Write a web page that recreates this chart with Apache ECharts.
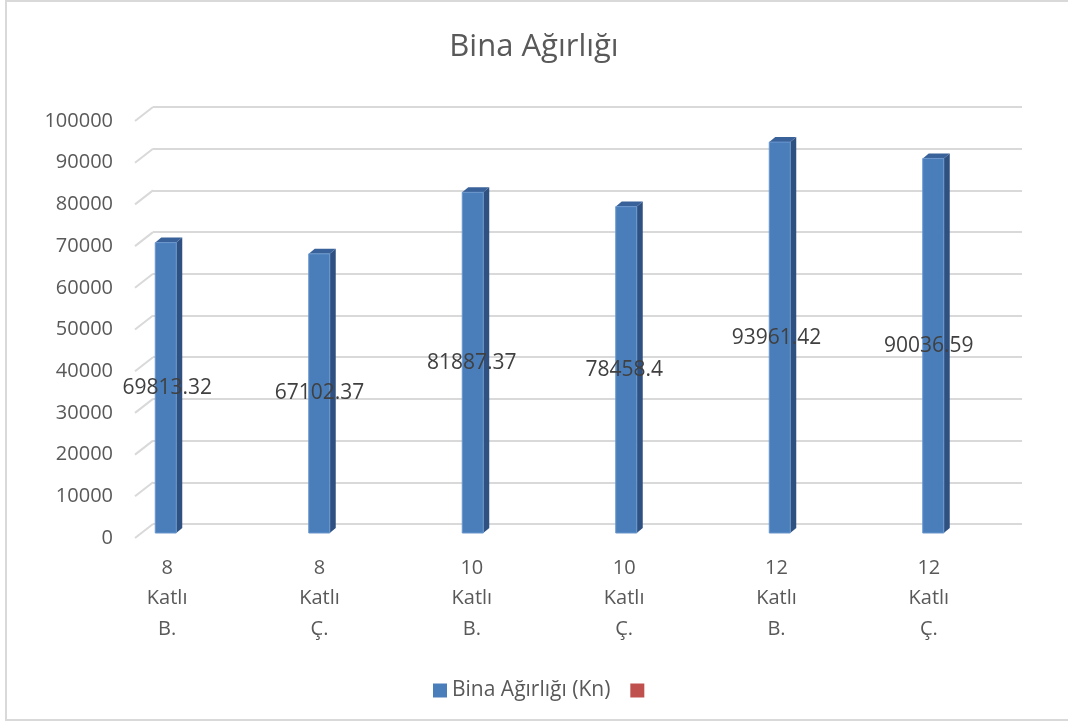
<!DOCTYPE html>
<html>
<head>
<meta charset="utf-8">
<script src="https://cdn.jsdelivr.net/npm/echarts@6/dist/echarts.min.js"></script>
<style>
  html, body { margin: 0; padding: 0; background: #ffffff; }
  #chart { width: 1068px; height: 724px; }
</style>
</head>
<body>
<div id="chart"></div>
<script>
// Building weights per storey count and system
const categories = ['8\nKatlı\nB.', '8\nKatlı\nÇ.', '10\nKatlı\nB.', '10\nKatlı\nÇ.', '12\nKatlı\nB.', '12\nKatlı\nÇ.'];
const weights = [69813.32, 67102.37, 81887.37, 78458.4, 93961.42, 90036.59];
const yTicks = [0, 10000, 20000, 30000, 40000, 50000, 60000, 70000, 80000, 90000, 100000];
const seriesName = 'Bina Ağırlığı (Kn)';
const titleText = 'Bina Ağırlığı';

const FONT = '"Open Sans", "Noto Sans", sans-serif';
const TEXT = '#595959';
const GRID_LINE = '#d9d9d9';

const chart = echarts.init(document.getElementById('chart'), null, { renderer: 'canvas' });

// 3D column: front face, darker right side, top cap
function renderColumn(params, api) {
  const i = api.value(0);
  const v = api.value(1);
  const base = api.coord([i, 0]);
  const top = api.coord([i, v]);
  const w = 21, dx = 6, dy = 5;
  const x0 = base[0] - w / 2;
  const h = base[1] - top[1];
  return {
    type: 'group',
    children: [
      { type: 'polygon', shape: { points: [[x0 + w, top[1]], [x0 + w + dx, top[1] - dy], [x0 + w + dx, base[1] - dy], [x0 + w, base[1]]] },
        style: { fill: '#2f5181' } },
      { type: 'polygon', shape: { points: [[x0, top[1]], [x0 + dx, top[1] - dy], [x0 + w + dx, top[1] - dy], [x0 + w, top[1]]] },
        style: { fill: '#3a629a' } },
      { type: 'rect', shape: { x: x0, y: top[1], width: w, height: h },
        style: { fill: '#4a7ebb', stroke: '#6a96cc', lineWidth: 1 } }
    ]
  };
}

// Value label at mid-height of each column
function renderValueLabel(params, api) {
  const i = api.value(0);
  const v = api.value(1);
  const base = api.coord([i, 0]);
  const top = api.coord([i, v]);
  return {
    type: 'text', x: base[0], y: (top[1] + base[1]) / 2,
    style: { text: String(v), font: '21px ' + FONT, fill: '#404040', align: 'center', verticalAlign: 'middle' }
  };
}

// Slanted floor-to-wall part of each gridline
function renderSlant(params, api) {
  const p = api.coord([0, api.value(0)]);
  return {
    type: 'line',
    shape: { x1: p[0], y1: p[1], x2: p[0] + 18, y2: p[1] - 14 },
    style: { stroke: GRID_LINE, lineWidth: 2 }
  };
}

const option = {
  backgroundColor: '#ffffff',
  animation: false,
  title: {
    text: titleText,
    left: 'center',
    top: 27,
    textStyle: { fontFamily: FONT, fontSize: 31, fontWeight: 'normal', color: TEXT }
  },
  legend: {
    data: [seriesName, ' '],
    left: 428,
    top: 675,
    icon: 'rect',
    itemWidth: 14,
    itemHeight: 14,
    itemGap: 20,
    textStyle: { fontFamily: FONT, fontSize: 21, color: TEXT }
  },
  graphic: [
    { type: 'rect', shape: { x: 6, y: 1, width: 1080, height: 719 },
      style: { fill: 'none', stroke: '#d9d9d9', lineWidth: 2 }, silent: true, z: -10 }
  ],
  grid: [
    { left: 153, right: 46, top: 107, bottom: 200 },  // back wall
    { left: 135, right: 64, top: 121, bottom: 186 },  // front edge (value labels)
    { left: 89, right: 58, top: 117, bottom: 191 },   // columns
    { left: 91, right: 63, top: 117, bottom: 191 }    // category and value labels
  ],
  xAxis: [
    { gridIndex: 0, type: 'category', data: categories, show: false },
    { gridIndex: 1, type: 'value', min: 0, max: 1, show: false },
    { gridIndex: 2, type: 'category', data: categories, show: false },
    { gridIndex: 3, type: 'category', data: categories,
      axisLine: { show: false }, axisTick: { show: false },
      axisLabel: { fontFamily: FONT, fontSize: 20, color: TEXT, lineHeight: 30.5, margin: 20 } }
  ],
  yAxis: [
    { gridIndex: 0, type: 'value', min: 0, max: 100000, interval: 10000,
      axisLabel: { show: false }, axisLine: { show: false }, axisTick: { show: false },
      splitLine: { lineStyle: { color: GRID_LINE, width: 2 } } },
    { gridIndex: 1, type: 'value', min: 0, max: 100000, interval: 10000,
      axisLine: { show: false }, axisTick: { show: false }, splitLine: { show: false },
      axisLabel: { fontFamily: FONT, fontSize: 20, color: TEXT, margin: 22, formatter: v => String(v) } },
    { gridIndex: 2, type: 'value', min: 0, max: 100000, interval: 10000, show: false },
    { gridIndex: 3, type: 'value', min: 0, max: 100000, interval: 10000, show: false }
  ],
  series: [
    { type: 'custom', name: 'slant', xAxisIndex: 1, yAxisIndex: 1,
      data: yTicks.map(v => [v]), encode: { y: 0 }, renderItem: renderSlant, silent: true, z: 1 },
    { type: 'custom', name: seriesName, xAxisIndex: 2, yAxisIndex: 2,
      itemStyle: { color: '#4a7ebb' },
      data: weights.map((v, i) => [i, v]), encode: { x: 0, y: 1 }, renderItem: renderColumn, z: 3 },
    { type: 'custom', name: 'values', xAxisIndex: 3, yAxisIndex: 3,
      data: weights.map((v, i) => [i, v]), encode: { x: 0, y: 1 }, renderItem: renderValueLabel, silent: true, z: 5 },
    { type: 'bar', name: ' ', xAxisIndex: 2, yAxisIndex: 2, data: [], itemStyle: { color: '#c0504d' } }
  ]
};

chart.setOption(option);
</script>
</body>
</html>
